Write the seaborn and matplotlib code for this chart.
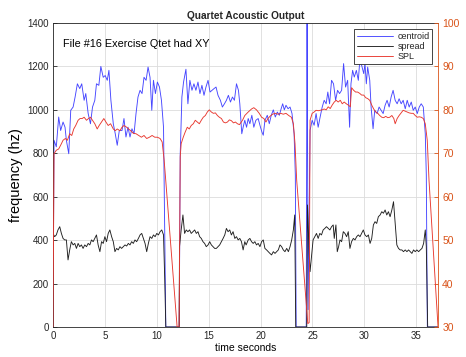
import numpy as np
import pandas as pd
import matplotlib
matplotlib.use("Agg")
import matplotlib.pyplot as plt
from matplotlib.lines import Line2D
import seaborn as sns

# ---- spectral centroid (Hz) ----
centroid_t = [0.0, 0.1, 0.32, 0.55, 0.74, 0.97, 1.16, 1.29, 1.52, 1.71, 1.94, 2.13, 2.35, 2.58, 2.77,
              3.0, 3.16, 3.39, 3.61, 3.81, 4.03, 4.19, 4.42, 4.61, 4.84, 5.03, 5.23, 5.39, 5.58, 5.81,
              6.0, 6.19, 6.39, 6.65, 6.84, 7.03, 7.23, 7.42, 7.61, 7.81, 8.0, 8.19, 8.39, 8.58, 8.77,
              8.97, 9.16, 9.35, 9.52, 9.68, 9.87, 10.06, 10.26, 10.45, 10.65, 10.87, 12.16, 12.26,
              12.42, 12.58, 12.81, 13.0, 13.19, 13.39, 13.58, 13.77, 13.97, 14.16, 14.35, 14.55, 14.74,
              14.94, 15.13, 15.32, 15.52, 15.71, 15.9, 16.13, 16.32, 16.52, 16.71, 16.9, 17.1, 17.29,
              17.48, 17.68, 17.87, 18.0, 18.19, 18.32, 18.48, 18.65, 18.81, 18.97, 19.16, 19.35, 19.55,
              19.77, 19.94, 20.13, 20.26, 20.42, 20.65, 20.84, 21.03, 21.23, 21.42, 21.61, 21.81, 21.97,
              22.13, 22.29, 22.45, 22.65, 22.84, 23.03, 23.23, 23.35, 23.43, 24.4, 24.48, 24.58, 24.77,
              24.97, 25.16, 25.35, 25.55, 25.74, 25.94, 26.13, 26.32, 26.48, 26.65, 26.84, 27.03, 27.23,
              27.42, 27.61, 27.81, 28.0, 28.19, 28.39, 28.58, 28.71, 28.87, 29.03, 29.23, 29.42, 29.55,
              29.74, 29.94, 30.06, 30.19, 30.32, 30.52, 30.65, 30.84, 31.0, 31.23, 31.42, 31.61, 31.81,
              32.0, 32.19, 32.39, 32.58, 32.77, 32.97, 33.16, 33.35, 33.55, 33.74, 33.94, 34.13, 34.32,
              34.52, 34.71, 34.9, 35.1, 35.29, 35.48, 35.68, 35.87, 35.97, 36.07, 37.1]
centroid_hz = [0, 860, 830, 967, 905, 944, 920, 860, 798, 998, 1013, 1059, 1120, 1098, 1120,
               1044, 1075, 983, 936, 1013, 1044, 1120, 1113, 1200, 1150, 1158, 1136, 1182, 1044, 936,
               890, 837, 905, 905, 960, 875, 920, 875, 913, 890, 983, 1059, 1090, 1075, 1150,
               1136, 1197, 1150, 998, 1136, 1075, 1128, 1105, 1044, 920, 0, 0, 798,
               1059, 1128, 1187, 1028, 1136, 1090, 1120, 1090, 1128, 1075, 1113, 1067, 1105,
               1136, 1082, 1090, 1098, 1105, 1067, 1044, 1013, 1028, 1044, 1067, 1036, 1059,
               1044, 1120, 1090, 1028, 890, 920, 952, 920, 960, 936, 975, 920, 952,
               960, 929, 898, 883, 952, 975, 936, 975, 1000, 967, 990, 975, 1003,
               1028, 1000, 1021, 1005, 1013, 983, 890, 700, 0, 0, 1550, 80, 906,
               952, 929, 983, 920, 967, 1013, 1044, 1028, 1082, 1028, 1136, 1120, 1044,
               1090, 1075, 1090, 1213, 1105, 1136, 920, 1120, 1182, 1151, 1182, 1136, 1220,
               1205, 1167, 1213, 1120, 1197, 1136, 1013, 913, 998, 983, 1013, 998, 983,
               1021, 1044, 1013, 1059, 1090, 1044, 1028, 1051, 1028, 1044, 1005, 1044, 1013,
               1036, 998, 1013, 983, 1013, 1028, 1013, 890, 700, 0, 0]

# ---- spectral spread (Hz) ----
spread_t = [0.0, 0.16, 0.32, 0.48, 0.65, 0.81, 0.97, 1.13, 1.29, 1.45, 1.61, 1.77, 1.94, 2.1, 2.26,
            2.42, 2.58, 2.74, 2.9, 3.06, 3.23, 3.39, 3.55, 3.71, 3.87, 4.03, 4.19, 4.35, 4.52, 4.68,
            4.84, 5.0, 5.16, 5.32, 5.48, 5.65, 5.81, 5.97, 6.13, 6.29, 6.45, 6.61, 6.77, 6.94, 7.1,
            7.26, 7.42, 7.58, 7.74, 7.9, 8.06, 8.23, 8.39, 8.55, 8.71, 8.87, 9.03, 9.19, 9.35, 9.52,
            9.68, 9.84, 10.0, 10.16, 10.32, 10.48, 10.65, 10.77, 10.87, 12.16, 12.19, 12.35, 12.52,
            12.68, 12.84, 13.0, 13.16, 13.32, 13.48, 13.65, 13.81, 13.97, 14.13, 14.29, 14.45, 14.61,
            14.77, 14.94, 15.1, 15.26, 15.42, 15.58, 15.74, 15.9, 16.06, 16.23, 16.39, 16.55, 16.71,
            16.87, 17.03, 17.19, 17.35, 17.52, 17.68, 17.84, 18.0, 18.16, 18.32, 18.48, 18.61, 18.81,
            18.97, 19.13, 19.29, 19.45, 19.61, 19.77, 19.94, 20.1, 20.26, 20.42, 20.58, 20.74, 20.9,
            21.06, 21.23, 21.39, 21.55, 21.71, 21.87, 22.03, 22.19, 22.35, 22.52, 22.68, 22.84, 23.0,
            23.16, 23.29, 23.39, 24.45, 24.52, 24.68, 24.77, 24.94, 25.06, 25.23, 25.39, 25.55, 25.71,
            25.87, 26.03, 26.19, 26.35, 26.52, 26.68, 26.84, 27.0, 27.1, 27.26, 27.39, 27.52, 27.65,
            27.81, 27.97, 28.13, 28.29, 28.45, 28.61, 28.77, 28.94, 29.1, 29.26, 29.42, 29.58, 29.74,
            29.9, 30.06, 30.23, 30.39, 30.55, 30.71, 30.87, 31.03, 31.19, 31.35, 31.52, 31.68, 31.84,
            32.0, 32.16, 32.32, 32.48, 32.65, 32.81, 32.97, 33.13, 33.29, 33.45, 33.61, 33.77, 33.94,
            34.1, 34.26, 34.42, 34.58, 34.74, 34.9, 35.06, 35.23, 35.39, 35.55, 35.71, 35.87, 35.97,
            36.1, 37.1]
spread_hz = [431, 416, 424, 447, 462, 431, 408, 401, 401, 309, 355, 393, 378, 385, 362,
             385, 370, 378, 362, 378, 370, 385, 378, 401, 393, 408, 424, 378, 347, 393,
             385, 416, 393, 431, 447, 416, 393, 347, 362, 355, 370, 362, 370, 378, 373,
             385, 378, 393, 385, 401, 393, 408, 424, 431, 408, 385, 347, 385, 416, 408,
             424, 416, 431, 424, 439, 447, 424, 216, 0, 0, 370, 447, 516,
             431, 447, 439, 447, 431, 439, 447, 431, 439, 416, 408, 393, 385,
             370, 378, 393, 378, 370, 362, 362, 370, 378, 393, 408, 424, 454,
             439, 447, 424, 439, 408, 416, 401, 408, 393, 355, 393, 378, 401,
             408, 393, 385, 393, 378, 385, 370, 393, 401, 362, 355, 347, 339,
             332, 347, 339, 347, 355, 378, 370, 355, 347, 362, 347, 370, 401,
             447, 516, 0, 0, 562, 339, 255, 339, 401, 416, 431, 408, 431,
             424, 447, 454, 462, 454, 447, 462, 470, 408, 470, 347, 370, 401,
             393, 439, 431, 416, 439, 362, 393, 408, 401, 416, 424, 416, 431,
             447, 424, 416, 424, 385, 408, 470, 485, 477, 508, 516, 531, 524,
             539, 516, 531, 508, 539, 577, 477, 378, 362, 355, 355, 347, 355,
             347, 355, 347, 339, 355, 347, 355, 347, 355, 362, 385, 447, 370,
             0, 0]

# ---- sound pressure level (dB) ----
spl_t = [0.0, 0.1, 0.32, 0.55, 0.81, 0.97, 1.19, 1.39, 1.61, 1.81, 2.0, 2.19, 2.42, 2.61, 2.81,
         3.0, 3.23, 3.42, 3.61, 3.81, 4.03, 4.26, 4.45, 4.68, 4.9, 5.1, 5.32, 5.55, 5.81, 6.0,
         6.19, 6.45, 6.65, 6.84, 7.1, 7.29, 7.48, 7.74, 8.0, 8.26, 8.52, 8.77, 9.03, 9.29, 9.55,
         9.81, 10.06, 10.32, 10.52, 10.71, 10.84, 11.96, 12.15, 12.26, 12.35, 12.55, 12.74, 12.94,
         13.13, 13.32, 13.52, 13.71, 13.9, 14.1, 14.29, 14.48, 14.68, 14.87, 15.06, 15.26, 15.45,
         15.65, 15.84, 16.03, 16.23, 16.42, 16.61, 16.81, 17.0, 17.19, 17.39, 17.58, 17.77, 17.97,
         18.26, 18.48, 18.81, 19.13, 19.35, 19.61, 19.87, 20.1, 20.32, 20.52, 20.71, 20.9, 21.16,
         21.42, 21.68, 21.94, 22.19, 22.45, 22.71, 22.97, 23.16, 23.32, 23.48, 24.55, 24.68, 24.77,
         24.97, 25.16, 25.35, 25.55, 25.74, 25.94, 26.13, 26.32, 26.52, 26.71, 26.9, 27.1, 27.29,
         27.48, 27.68, 27.87, 28.06, 28.26, 28.45, 28.65, 28.77, 28.97, 29.16, 29.35, 29.55, 29.74,
         29.94, 30.13, 30.32, 30.52, 30.71, 30.9, 31.1, 31.29, 31.48, 31.68, 31.87, 32.06, 32.26,
         32.45, 32.65, 32.84, 32.97, 33.16, 33.35, 33.55, 33.74, 33.94, 34.13, 34.32, 34.52, 34.71,
         34.9, 35.1, 35.29, 35.48, 35.68, 35.87, 36.06, 36.23, 37.1]
spl_db = [30, 69.9, 70.7, 71.0, 72.2, 73.0, 73.4, 73.0, 74.5, 74.1, 75.6, 76.4, 77.6, 78.0, 78.0,
          78.3, 77.6, 78.0, 78.3, 77.6, 76.8, 75.6, 76.4, 77.2, 78.0, 77.2, 76.4, 76.8, 75.6, 75.2,
          75.6, 75.2, 76.0, 76.4, 76.0, 75.6, 75.2, 74.6, 74.5, 74.1, 73.7, 74.1, 73.4, 73.7, 74.1,
          73.7, 73.7, 73.4, 72.6, 68.4, 64.5, 30, 30, 69.2, 72.2, 73.7, 74.9, 76.0,
          75.6, 76.4, 76.8, 77.6, 77.2, 76.8, 77.6, 78.3, 78.7, 79.5, 80.0, 79.5, 79.2,
          79.3, 78.7, 78.3, 78.0, 77.2, 77.0, 77.2, 77.7, 77.5, 77.0, 77.2, 76.8, 76.6,
          77.6, 78.7, 79.5, 80.2, 80.5, 80.0, 79.2, 78.3, 78.0, 77.2, 78.0, 78.5, 79.0,
          79.2, 79.0, 79.2, 79.0, 79.2, 78.7, 78.3, 76.8, 72.2, 63.8, 30.8, 31.0, 77.6,
          79.2, 79.5, 79.9, 79.8, 79.9, 80.0, 80.2, 80.0, 80.7, 80.3, 81.1, 81.8, 82.2,
          81.8, 82.2, 81.4, 81.8, 81.4, 81.1, 80.7, 85.1, 84.5, 84.1, 84.1, 83.8, 83.4,
          83.4, 82.8, 82.6, 82.2, 81.1, 80.2, 79.5, 79.2, 78.7, 78.3, 78.2, 78.5, 78.2,
          78.3, 78.7, 78.0, 76.8, 78.0, 78.7, 79.3, 79.9, 79.7, 79.5, 79.3, 79.2, 79.2,
          78.7, 78.3, 78.4, 78.3, 78.0, 76.8, 73.0, 63.8, 30]

series_labels = ["centroid", "spread", "SPL"]
freq_ticks = [0, 200, 400, 600, 800, 1000, 1200, 1400]
spl_ticks = [30, 40, 50, 60, 70, 80, 90, 100]
time_ticks = [0, 5, 10, 15, 20, 25, 30, 35]

sns.set_style("white")
plt.rcParams["font.family"] = ["Liberation Sans", "DejaVu Sans"]

AX_COL = "#262626"
ORANGE = "#D95319"
BLUE = "#4646ff"
BLACK = "#202020"
RED = "#e8382f"
LW = 0.65

fig = plt.figure(figsize=(4.66, 3.57), dpi=100)
ax = fig.add_axes([0.1137, 0.084, 0.8263, 0.8516])

centroid_df = pd.DataFrame({"t": centroid_t, "v": centroid_hz})
spread_df = pd.DataFrame({"t": spread_t, "v": spread_hz})
spl_df = pd.DataFrame({"t": spl_t, "v": spl_db})

sns.lineplot(data=centroid_df, x="t", y="v", ax=ax, color=BLUE, lw=LW,
             sort=False, estimator=None, legend=False)
sns.lineplot(data=spread_df, x="t", y="v", ax=ax, color=BLACK, lw=LW,
             sort=False, estimator=None, legend=False)

ax2 = ax.twinx()
sns.lineplot(data=spl_df, x="t", y="v", ax=ax2, color=RED, lw=LW,
             sort=False, estimator=None, legend=False)

ax.set_xlim(0, 37.1)
ax.set_ylim(0, 1400)
ax2.set_ylim(30, 100)
ax.set_xticks(time_ticks)
ax.set_yticks(freq_ticks)
ax2.set_yticks(spl_ticks)

ax.grid(True, color="#dcdcdc", lw=0.6)
ax.set_axisbelow(True)

ax.tick_params(axis="both", direction="in", length=3, width=0.6, colors=AX_COL, labelsize=7, pad=3)
ax2.tick_params(axis="y", direction="in", length=3, width=0.6, colors=ORANGE, labelsize=7.5, pad=3)

for side in ["left", "bottom", "top"]:
    ax.spines[side].set_color(AX_COL)
    ax.spines[side].set_linewidth(0.6)
ax.spines["right"].set_visible(False)
for side in ["left", "bottom", "top"]:
    ax2.spines[side].set_visible(False)
ax2.spines["right"].set_color(ORANGE)
ax2.spines["right"].set_linewidth(0.6)

ax.set_xlabel("time seconds", fontsize=7.5, color="black", labelpad=1)
ax.set_ylabel("frequency (hz)", fontsize=10.5, color="black", labelpad=3)
ax2.set_ylabel("SPL dB", fontsize=10.5, color=ORANGE, rotation=90, labelpad=6)
ax.set_title("Quartet Acoustic Output", fontsize=7.3, fontweight="bold", pad=3)

ax2.text(1.0, 95.15, "File #16 Exercise Qtet had XY", fontsize=7.8, color="black",
         va="center", ha="left")

handles = [Line2D([], [], color=BLUE, lw=LW),
           Line2D([], [], color=BLACK, lw=LW),
           Line2D([], [], color=RED, lw=LW)]
leg = ax2.legend(handles, series_labels, loc="upper right", bbox_to_anchor=(0.985, 0.98),
                 fontsize=6.5, frameon=True, fancybox=False, framealpha=1,
                 edgecolor=AX_COL, handlelength=4.0, handletextpad=0.5,
                 borderpad=0.3, labelspacing=0.15, borderaxespad=0)
leg.get_frame().set_linewidth(0.6)

fig.savefig("out.png", dpi=100)
